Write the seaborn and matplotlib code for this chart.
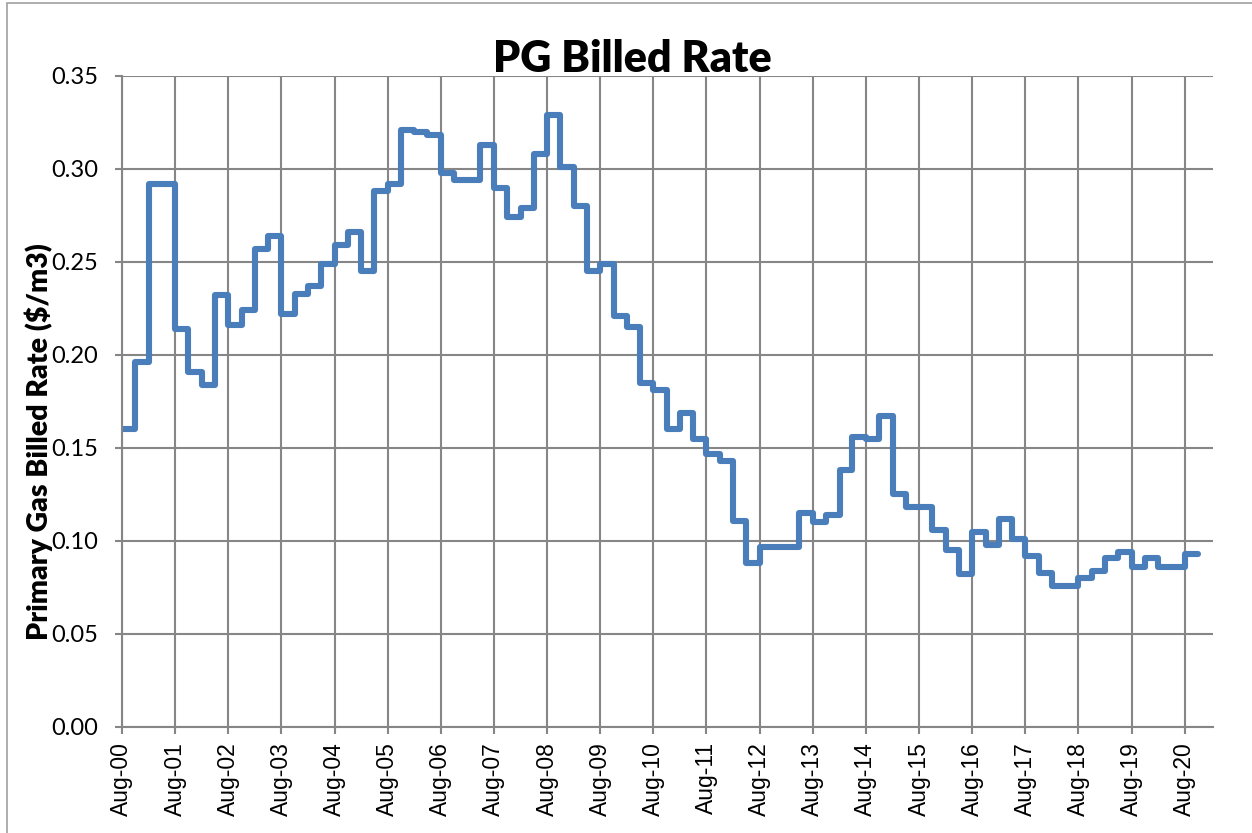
import pandas as pd
import matplotlib.pyplot as plt
import matplotlib.dates as mdates
from matplotlib.patches import Rectangle
import seaborn as sns

# quarterly primary gas billed rate ($/m3), first quarter starts Aug 2000
start_date = '2000-08-01'
rate = [
    0.160, 0.196, 0.292, 0.292,
    0.214, 0.191, 0.184, 0.232,
    0.216, 0.224, 0.257, 0.264,
    0.222, 0.233, 0.237, 0.249,
    0.259, 0.266, 0.245, 0.288,
    0.292, 0.321, 0.320, 0.318,
    0.298, 0.294, 0.294, 0.313,
    0.290, 0.274, 0.279, 0.308,
    0.329, 0.301, 0.280, 0.245,
    0.249, 0.221, 0.215, 0.185,
    0.181, 0.160, 0.169, 0.155,
    0.147, 0.143, 0.111, 0.088,
    0.097, 0.097, 0.097, 0.115,
    0.110, 0.114, 0.138, 0.156,
    0.155, 0.167, 0.125, 0.118,
    0.118, 0.106, 0.095, 0.082,
    0.105, 0.098, 0.112, 0.101,
    0.092, 0.083, 0.076, 0.076,
    0.080, 0.084, 0.091, 0.094,
    0.086, 0.091, 0.086, 0.086,
    0.093,
]
y_ticks = [0.00, 0.05, 0.10, 0.15, 0.20, 0.25, 0.30, 0.35]
x_ticks = pd.date_range('2000-08-01', '2020-08-01', freq='12MS')

# last value repeated so the final step has a width
dates = pd.date_range(start_date, periods=len(rate) + 1, freq='3MS')
df = pd.DataFrame({'date': dates, 'rate': rate + [rate[-1]]})

sns.set_style('white')
plt.rcParams['font.family'] = ['Lato', 'DejaVu Sans']
plt.rcParams['text.color'] = 'black'
plt.rcParams['xtick.color'] = 'black'
plt.rcParams['ytick.color'] = 'black'
plt.rcParams['axes.labelcolor'] = 'black'

grid_col = '#868686'
fig, ax = plt.subplots(figsize=(12.52, 8.33), dpi=100)
fig.subplots_adjust(left=0.0974, right=0.969, top=0.9088, bottom=0.1273)

sns.lineplot(data=df, x='date', y='rate', drawstyle='steps-post',
             color='#4a7ebb', linewidth=4.4, ax=ax)

ax.set_ylim(0, 0.35)
ax.set_xlim(pd.Timestamp('2000-08-01'), pd.Timestamp('2021-02-12'))
ax.set_yticks(y_ticks)
ax.set_yticklabels([f'{v:.2f}' for v in y_ticks], fontsize=17)
ax.set_xticks(x_ticks)
ax.xaxis.set_major_formatter(mdates.DateFormatter('%b-%y'))
plt.setp(ax.get_xticklabels(), rotation=90, fontsize=16.5,
         family=['Liberation Sans', 'DejaVu Sans'])

ax.grid(True, color=grid_col, linewidth=1.5)
ax.set_axisbelow(True)
for side in ['top', 'right']:
    ax.spines[side].set_visible(False)
for side in ['left', 'bottom']:
    ax.spines[side].set_color(grid_col)
    ax.spines[side].set_linewidth(1.5)
ax.tick_params(axis='both', which='both', direction='out', length=5,
               width=1.5, color=grid_col, left=True, bottom=True)
ax.tick_params(axis='y', pad=12)
ax.tick_params(axis='x', pad=6)

ax.set_xlabel('')
ax.set_ylabel('Primary Gas Billed Rate ($/m3)', fontsize=20.5, fontweight='heavy')
ax.yaxis.set_label_coords(-0.063, 0.438)

fig.text(0.505, 1 - 72 / 833, 'PG Billed Rate', ha='center', va='baseline',
         fontsize=31, fontweight='heavy')

# chart area border
fig.patches.append(Rectangle((7 / 1252, -0.01), 1.02, 1 - 3 / 833 + 0.01,
                             transform=fig.transFigure, fill=False,
                             edgecolor='#a0a0a0', linewidth=1.2))

plt.savefig('out.png', dpi=100)
